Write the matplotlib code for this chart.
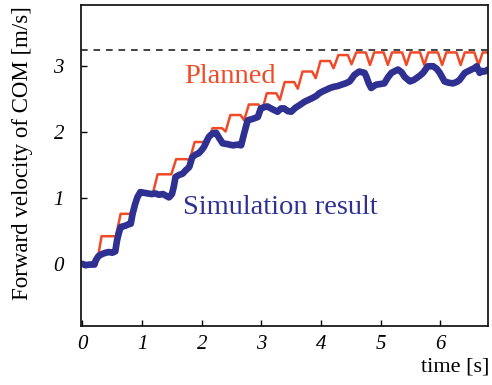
import matplotlib
matplotlib.use('Agg')
import matplotlib.pyplot as plt

# planned forward velocity (vertices)
plan_t = [0.0, 0.18, 0.24, 0.32,
          0.50, 0.56, 0.64,
          0.81, 0.87, 0.95,
          1.12, 1.18, 1.26,
          1.43, 1.49, 1.57,
          1.74, 1.80, 1.88,
          2.04, 2.10, 2.18,
          2.34, 2.40, 2.48,
          2.65, 2.71, 2.79,
          2.95, 3.01, 3.09,
          3.25, 3.31, 3.39,
          3.55, 3.61, 3.69,
          3.85, 3.91, 3.99,
          4.15, 4.21, 4.29,
          4.45, 4.51, 4.59,
          4.75, 4.82, 4.89,
          5.05, 5.12, 5.19,
          5.36, 5.43, 5.50,
          5.66, 5.73, 5.80,
          5.96, 6.03, 6.10,
          6.27, 6.34, 6.41,
          6.57, 6.64, 6.71,
          6.85]
plan_v = [0.0, 0.0, 0.0, 0.42,
          0.42, 0.42, 0.76,
          0.76, 0.76, 1.07,
          1.07, 1.07, 1.36,
          1.36, 1.36, 1.59,
          1.59, 1.58, 1.85,
          1.85, 1.82, 2.06,
          2.06, 2.01, 2.26,
          2.26, 2.18, 2.42,
          2.42, 2.32, 2.59,
          2.59, 2.49, 2.76,
          2.76, 2.66, 2.92,
          2.92, 2.82, 3.08,
          3.08, 2.97, 3.17,
          3.17, 3.03, 3.21,
          3.21, 3.02, 3.21,
          3.21, 3.02, 3.21,
          3.21, 3.02, 3.21,
          3.21, 3.02, 3.21,
          3.21, 3.02, 3.21,
          3.21, 3.02, 3.21,
          3.21, 3.02, 3.21,
          3.21]

# simulation result
sim_t = [0.0, 0.05, 0.12, 0.20, 0.22, 0.27, 0.33, 0.39, 0.44, 0.50, 0.55,
         0.58, 0.61, 0.64, 0.68, 0.72, 0.77, 0.81, 0.84, 0.88, 0.92, 0.97,
         1.03, 1.09, 1.16, 1.22, 1.28, 1.35, 1.41, 1.45, 1.50, 1.53, 1.56,
         1.62, 1.68, 1.73, 1.79, 1.84, 1.90, 1.95, 2.00, 2.04, 2.08, 2.12,
         2.18, 2.24, 2.30, 2.35, 2.42, 2.52, 2.60, 2.66, 2.71, 2.77, 2.85,
         2.94, 2.99, 3.05, 3.10, 3.18, 3.27, 3.33, 3.38, 3.44, 3.50, 3.57,
         3.64, 3.72, 3.79, 3.86, 3.92, 3.97, 4.03, 4.08, 4.15, 4.22, 4.28,
         4.34, 4.41, 4.48, 4.56, 4.64, 4.73, 4.76, 4.80, 4.84, 4.92, 4.99,
         5.06, 5.12, 5.18, 5.29, 5.35, 5.40, 5.49, 5.55, 5.60, 5.66, 5.71,
         5.79, 5.88, 5.94, 5.99, 6.07, 6.14, 6.21, 6.27, 6.32, 6.41, 6.52,
         6.57, 6.61, 6.66, 6.70, 6.74, 6.80]
sim_v = [0.0, -0.02, -0.01, -0.01, 0.05, 0.12, 0.15, 0.17, 0.18, 0.17, 0.19,
         0.36, 0.47, 0.56, 0.57, 0.58, 0.60, 0.61, 0.76, 0.90, 1.01, 1.09,
         1.08, 1.07, 1.06, 1.07, 1.05, 1.06, 1.03, 1.01, 1.06, 1.17, 1.32,
         1.35, 1.37, 1.42, 1.47, 1.62, 1.66, 1.68, 1.73, 1.78, 1.86, 1.93,
         1.98, 1.99, 1.90, 1.83, 1.82, 1.80, 1.81, 1.80, 1.98, 2.18, 2.20,
         2.23, 2.36, 2.38, 2.39, 2.35, 2.31, 2.36, 2.36, 2.32, 2.31, 2.37,
         2.41, 2.46, 2.49, 2.52, 2.55, 2.59, 2.62, 2.64, 2.67, 2.69, 2.70,
         2.72, 2.74, 2.77, 2.87, 2.92, 2.90, 2.84, 2.74, 2.67, 2.72, 2.73,
         2.74, 2.83, 2.90, 2.95, 2.91, 2.84, 2.77, 2.79, 2.82, 2.86, 2.90,
         3.00, 3.00, 2.96, 2.90, 2.77, 2.75, 2.74, 2.76, 2.79, 2.90, 2.95,
         2.97, 3.00, 2.90, 2.93, 2.92, 2.95]

v_max = 3.24
x_ticks = [0, 1, 2, 3, 4, 5, 6]
y_ticks = [0, 1, 2, 3]

serif = ['Liberation Serif', 'DejaVu Serif']
red = '#f04a27'
blue = '#2e3192'

fig = plt.figure(figsize=(4.92, 3.85), dpi=100)
ax = fig.add_axes([0.164, 0.152, 0.828, 0.835])

ax.axhline(v_max, color='#222222', lw=1.2, ls=(0, (4, 3.5)))
ax.plot(plan_t, plan_v, color=red, lw=1.8, solid_joinstyle='round')
ax.plot(sim_t, sim_v, color=blue, lw=4.8, solid_joinstyle='round', solid_capstyle='round')

ax.text(1.70, 2.75, 'Planned', color=red, fontsize=20.5, family=serif)
ax.text(1.69, 0.76, 'Simulation result', color=blue, fontsize=20.5, family=serif)

ax.set_xlim(-0.03, 6.8)
ax.set_ylim(-0.95, 3.93)
ax.set_xticks(x_ticks)
ax.set_yticks(y_ticks)
ax.set_xticklabels([str(x) for x in x_ticks], family=serif, style='italic', fontsize=15)
ax.set_yticklabels([str(y) for y in y_ticks], family=serif, style='italic', fontsize=15)
ax.tick_params(direction='in', length=4, width=1.0, pad=6)
ax.tick_params(axis='y', pad=12)
for s in ax.spines.values():
    s.set_linewidth(1.3)
    s.set_color('#1a1a1a')

fig.text(0.045, 0.603, 'Forward velocity of COM [m/s]', family=serif, fontsize=16.5,
         rotation=90, ha='center', va='center')
fig.text(0.995, 0.047, 'time [s]', family=serif, fontsize=16, ha='right', va='center')

fig.savefig('out.png', dpi=100)
